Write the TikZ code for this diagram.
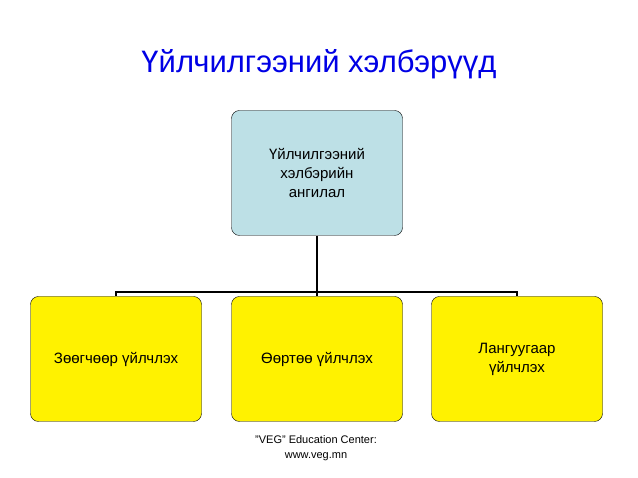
\documentclass[tikz,border=0pt]{standalone}
\usepackage{fontspec}
\setmainfont{Liberation Sans}
\begin{document}
\begin{tikzpicture}[x=1pt,y=1pt,
  box/.style={draw=black, rounded corners=8pt, minimum width=171pt, minimum height=125pt, align=center, font=\fontsize{15}{19}\selectfont},
  conn/.style={line width=2.6pt}]
\useasboundingbox (0,0) rectangle (638,478);
\node[font=\fontsize{31}{36}\selectfont, text=blue!90!black] (title) at (319,414) {Үйлчилгээний хэлбэрүүд};
\node[box, fill={rgb,255:red,189;green,224;blue,230}] (top) at (317,305) {Үйлчилгээний\\ хэлбэрийн\\ ангилал};
\node[box, fill=yellow] (b1) at (116,119) {Зөөгчөөр үйлчлэх};
\node[box, fill=yellow] (b2) at (317,119) {Өөртөө үйлчлэх};
\node[box, fill=yellow] (b3) at (517,119) {Лангуугаар\\ үйлчлэх};
\coordinate (j) at (317,186);
\draw[conn] (top.south) -- (j);
\draw[conn] (j) -| (b1.north);
\draw[conn] (j) -| (b3.north);
\draw[conn] (j) -- (b2.north);
\node[font=\fontsize{11}{15}\selectfont, align=center] (foot) at (316,30) {"VEG" Education Center:\\ www.veg.mn};
\end{tikzpicture}
\end{document}
